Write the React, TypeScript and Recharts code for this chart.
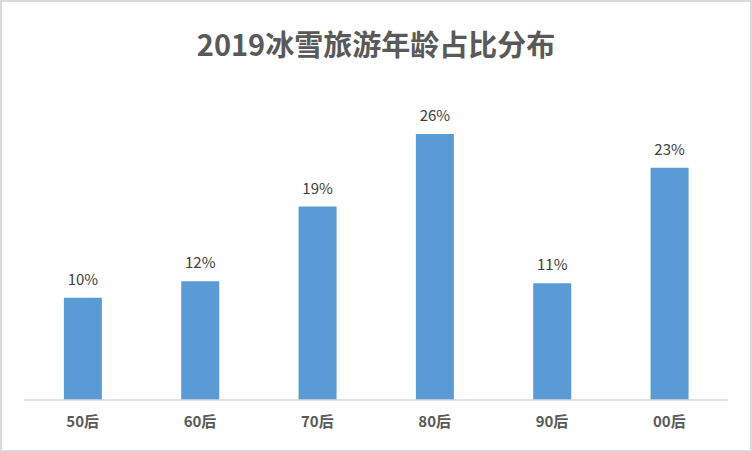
import { BarChart, Bar, XAxis, YAxis, LabelList } from 'recharts';

const title = '2019冰雪旅游年龄占比分布';
const categories = ['50后', '60后', '70后', '80后', '90后', '00后'];
// bar heights; labels show the rounded figure
const shares = [10.0, 11.6, 18.9, 26.0, 11.4, 22.7];

const data = categories.map((name, i) => ({ name, share: shares[i] }));

const FONT = '"Noto Sans CJK SC", "Noto Sans", sans-serif';

export default function App() {
  return (
    <div
      style={{
        position: 'absolute',
        left: 0,
        top: 0,
        width: 752,
        height: 452,
        background: '#fff',
        fontFamily: FONT,
        boxSizing: 'border-box',
        border: '2px solid #d9d9d9',
      }}
    >
      <div
        style={{
          position: 'absolute',
          left: 0,
          top: 21,
          width: 748,
          textAlign: 'center',
          fontSize: 29,
          fontWeight: 700,
          color: '#595959',
          lineHeight: '40px',
        }}
      >
        {title}
      </div>
      <div style={{ position: 'absolute', left: -2, top: -2 }}>
        <BarChart
          width={752}
          height={452}
          data={data}
          margin={{ top: 93, right: 24, bottom: 0, left: 24 }}
          barCategoryGap="34%"
        >
          <XAxis
            dataKey="name"
            height={52}
            tickLine={false}
            axisLine={{ stroke: '#d9d9d9', strokeWidth: 1.5 }}
            tick={{ fill: '#595959', fontSize: 15, fontWeight: 700, fontFamily: FONT }}
            tickMargin={10}
            interval={0}
          />
          <YAxis hide domain={[0, 30]} />
          <Bar dataKey="share" fill="#5b9bd5" isAnimationActive={false}>
            <LabelList
              dataKey="share"
              position="top"
              offset={13}
              formatter={(v: number) => `${Math.round(v)}%`}
              style={{ fill: '#404040', fontSize: 15, fontFamily: FONT }}
            />
          </Bar>
        </BarChart>
      </div>
    </div>
  );
}
